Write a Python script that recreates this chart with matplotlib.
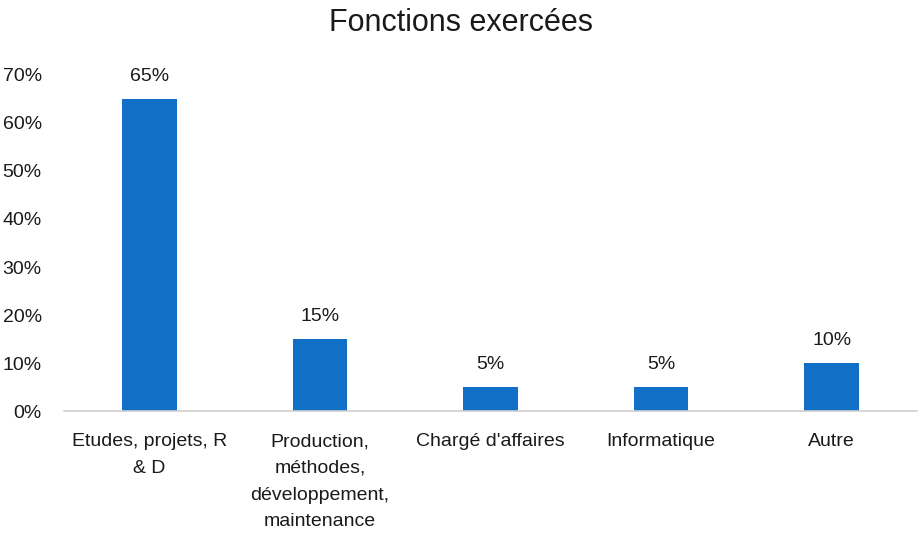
import matplotlib
matplotlib.use("Agg")
import matplotlib.pyplot as plt

categories = ["Etudes, projets, R\n& D",
              "Production,\nméthodes,\ndéveloppement,\nmaintenance",
              "Chargé d'affaires",
              "Informatique",
              "Autre"]
values = [65, 15, 5, 5, 10]
yticks = [0, 10, 20, 30, 40, 50, 60, 70]

plt.rcParams["font.family"] = ["Liberation Sans", "DejaVu Sans"]
text_color = "#1a1a1a"

fig = plt.figure(figsize=(9.22, 5.34), dpi=100)
ax = fig.add_axes([0.0694, 0.2303, 0.9252, 0.6293])

x = range(len(categories))
ax.bar(x, values, width=0.32, color="#1170C6", zorder=2)
for xi, v in zip(x, values):
    ax.text(xi, v + 3.0, f"{v}%", ha="center", va="bottom", fontsize=14, color=text_color)

ax.set_xlim(-0.5, len(categories) - 0.5)
ax.set_ylim(0, 70)
ax.set_yticks(yticks)
ax.set_yticklabels([f"{t}%" for t in yticks], fontsize=14, color=text_color)
ax.set_xticks(list(x))
ax.set_xticklabels(categories, fontsize=14, color=text_color, linespacing=1.75)
ax.tick_params(axis="both", length=0)
ax.tick_params(axis="y", pad=16)
ax.tick_params(axis="x", pad=16)
for s in ["top", "right", "left"]:
    ax.spines[s].set_visible(False)
ax.spines["bottom"].set_color("#d0d0d0")
ax.spines["bottom"].set_linewidth(1.2)

fig.suptitle("Fonctions exercées", fontsize=22, y=0.985, va="top", color=text_color)
fig.savefig("out.png", dpi=100)
